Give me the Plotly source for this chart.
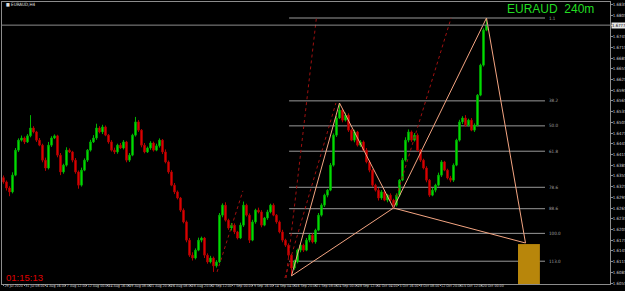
import plotly.graph_objects as go

# ---------------- data ----------------
closes = [
    1.6338, 1.6321, 1.6310, 1.6357, 1.6427, 1.6455, 1.6461, 1.6450, 1.6467, 1.6489,
    1.6478, 1.6455, 1.6441, 1.6399, 1.6377, 1.6441, 1.6461, 1.6467, 1.6413, 1.6366,
    1.6385, 1.6427, 1.6422, 1.6399, 1.6366, 1.6329, 1.6371, 1.6399, 1.6427, 1.6450,
    1.6461, 1.6489, 1.6478, 1.6492, 1.6469, 1.6450, 1.6427, 1.6422, 1.6441, 1.6433,
    1.6450, 1.6399, 1.6413, 1.6469, 1.6506, 1.6483, 1.6441, 1.6422, 1.6433, 1.6447,
    1.6427, 1.6439, 1.6455, 1.6422, 1.6394, 1.6366, 1.6329, 1.6310, 1.6293, 1.6259,
    1.6226, 1.6175, 1.6133, 1.6125, 1.6147, 1.6175, 1.6181, 1.6133, 1.6114, 1.6125,
    1.6103, 1.6114, 1.6245, 1.6273, 1.6231, 1.6209, 1.6217, 1.6198, 1.6181, 1.6217,
    1.6273, 1.6245, 1.6175, 1.6226, 1.6259, 1.6254, 1.6217, 1.6237, 1.6254, 1.6273,
    1.6245, 1.6226, 1.6198, 1.6175, 1.6161, 1.6133, 1.6097, 1.6114, 1.6147, 1.6161,
    1.6147, 1.6175, 1.6189, 1.6170, 1.6203, 1.6245, 1.6273, 1.6301, 1.6315, 1.6385,
    1.6469, 1.6517, 1.6539, 1.6511, 1.6525, 1.6483, 1.6455, 1.6478, 1.6441, 1.6450,
    1.6427, 1.6394, 1.6371, 1.6329, 1.6315, 1.6293, 1.6310, 1.6287, 1.6301, 1.6287,
    1.6273, 1.6301, 1.6343, 1.6399, 1.6455, 1.6478, 1.6455, 1.6469, 1.6427, 1.6399,
    1.6377, 1.6343, 1.6301, 1.6315, 1.6329, 1.6357, 1.6394, 1.6371, 1.6349, 1.6343,
    1.6385, 1.6455, 1.6506, 1.6517, 1.6497, 1.6511, 1.6483, 1.6497, 1.6581, 1.6665,
    1.6763, 1.6777,
]
first_open = 1.6350
wick_up_pips = [
    6, 4, 5, 8, 6, 5, 7, 4, 5, 36,
    5, 3, 6, 4, 7, 9, 5, 4, 3, 6,
    4, 8, 5, 3, 6, 4, 7, 5, 3, 6,
    8, 12, 5, 6, 4, 3, 5, 7, 4, 6,
    5, 3, 6, 4, 14, 5, 3, 6, 4, 5,
    4, 6, 5, 3, 7, 4, 5, 6, 4, 3,
    5, 4, 6, 8, 5, 7, 4, 3, 5, 6,
    4, 5, 6, 5, 8, 4, 6, 5, 3, 7,
    10, 4, 5, 6, 4, 7, 5, 3, 6, 4,
    5, 3, 4, 6, 4, 5, 3, 6, 4, 5,
    4, 6, 3, 5, 4, 6, 5, 4, 3, 6,
    5, 6, 20, 4, 7, 5, 4, 6, 3, 5,
    4, 6, 5, 3, 4, 6, 5, 4, 3, 5,
    4, 5, 3, 6, 8, 7, 4, 6, 5, 3,
    4, 5, 3, 6, 4, 7, 5, 3, 4, 6,
    5, 4, 6, 5, 8, 4, 6, 5, 3, 4,
    5, 20,
]
wick_dn_pips = [
    5, 7, 12, 4, 3, 5, 4, 6, 3, 4,
    4, 5, 3, 6, 8, 4, 5, 3, 6, 9,
    5, 4, 3, 6, 5, 10, 4, 3, 5, 4,
    3, 5, 4, 6, 3, 5, 4, 6, 5, 3,
    4, 6, 5, 3, 4, 5, 6, 4, 3, 5,
    4, 3, 5, 6, 4, 5, 3, 6, 4, 5,
    4, 6, 5, 7, 4, 3, 6, 8, 5, 4,
    17, 5, 3, 6, 4, 5, 7, 6, 4, 3,
    5, 4, 8, 3, 5, 4, 6, 3, 5, 4,
    3, 5, 4, 6, 5, 6, 22, 5, 4, 6,
    5, 3, 6, 4, 5, 3, 4, 5, 6, 3,
    4, 5, 3, 6, 4, 5, 3, 6, 4, 5,
    3, 4, 6, 5, 4, 7, 5, 3, 6, 4,
    8, 4, 5, 3, 4, 6, 5, 4, 3, 5,
    4, 6, 5, 3, 6, 4, 5, 3, 4, 6,
    5, 3, 4, 6, 5, 4, 3, 5, 4, 3,
    4, 3,
]

date_labels = [
    "29 Jul 2020", "31 Jul 08:00", "4 Aug 16:00", "7 Aug 12:00", "12 Aug 00:00",
    "14 Aug 16:00", "19 Aug 08:00", "21 Aug 20:00", "26 Aug 08:00", "28 Aug 20:00",
    "2 Sep 12:00", "7 Sep 00:00", "9 Sep 16:00", "14 Sep 04:00", "16 Sep 20:00",
    "21 Sep 08:00", "24 Sep 00:00", "28 Sep 12:00", "1 Oct 04:00", "5 Oct 16:00",
    "8 Oct 08:00", "12 Oct 20:00", "15 Oct 12:00", "20 Oct 00:00",
]

price_ticks = [round(1.6055 + 0.003 * k, 4) for k in range(27)]

# harmonic pattern X, A, B, C, D  (bar index, price)
pattern_idx = [96, 112, 130, 161, 174]
pattern_price = [1.6075, 1.6559, 1.6265, 1.6797, 1.6167]

# fibonacci levels
fib_levels = [1.6797, 1.6565, 1.6495, 1.6424, 1.6323, 1.6263, 1.6194, 1.6116]
fib_labels = ["1.1", "38.2", "50.0", "61.8", "78.6", "88.6", "100.0", "113.0"]
fib_span = [95.2, 180.5]

# dotted projection lines
proj_idx = [[71.2, 79.8], [94.2, 104.3], [93.8, 110.8], [129.8, 149.2]]
proj_price = [[1.6086, 1.6313], [1.6069, 1.6797], [1.6069, 1.6559], [1.6265, 1.6797]]

# target zone
zone_idx = [171.5, 178.8]
zone_top = 1.6164

# ---------------- build ----------------
n = len(closes)
xs = list(range(n))
opens = [first_open] + closes[:-1]
highs = [max(o, c) + w * 0.0001 for o, c, w in zip(opens, closes, wick_up_pips)]
lows = [min(o, c) - w * 0.0001 for o, c, w in zip(opens, closes, wick_dn_pips)]

y_range = [1.60522, 1.68418]
x_range = [-0.5, 202.17]

NARROW = "Liberation Sans Narrow, Arial Narrow, DejaVu Sans Condensed, Arial"

fig = go.Figure()

fig.add_trace(go.Candlestick(
    x=xs, open=opens, high=highs, low=lows, close=closes,
    increasing=dict(line=dict(color="#00B400", width=1), fillcolor="#00FF00"),
    decreasing=dict(line=dict(color="#B40000", width=1), fillcolor="#FF0000"),
    whiskerwidth=0, hoverinfo="skip", showlegend=False,
))

# pattern legs
legs = [(0, 1), (1, 2), (0, 2), (2, 3), (3, 4), (2, 4)]
lx, ly = [], []
for a, b in legs:
    lx += [pattern_idx[a], pattern_idx[b], None]
    ly += [pattern_price[a], pattern_price[b], None]
fig.add_trace(go.Scatter(x=lx, y=ly, mode="lines",
                         line=dict(color="#F4A582", width=1),
                         hoverinfo="skip", showlegend=False))

# projection dotted lines
px, py = [], []
for xi, yi in zip(proj_idx, proj_price):
    px += xi + [None]
    py += yi + [None]
fig.add_trace(go.Scatter(x=px, y=py, mode="lines",
                         line=dict(color="#A01010", width=1, dash="dot"),
                         hoverinfo="skip", showlegend=False))

shapes = []
# bid line
shapes.append(dict(type="line", xref="paper", x0=0, x1=1, yref="y",
                   y0=closes[-1], y1=closes[-1],
                   line=dict(color="#8C8C8C", width=1)))
# fib lines
for lv in fib_levels:
    shapes.append(dict(type="line", xref="x", x0=fib_span[0], x1=fib_span[1],
                       yref="y", y0=lv, y1=lv,
                       line=dict(color="#9A9A9A", width=1), layer="below"))
# target zone
shapes.append(dict(type="rect", xref="x", x0=zone_idx[0], x1=zone_idx[1],
                   yref="y", y0=y_range[0], y1=zone_top,
                   fillcolor="#B8860B", line=dict(width=0), layer="above"))

annotations = []
for lv, lab in zip(fib_levels, fib_labels):
    annotations.append(dict(x=fib_span[1] + 0.8, y=lv, xref="x", yref="y",
                            text=lab, showarrow=False, xanchor="left",
                            yanchor="middle",
                            font=dict(size=4.5, color="#A0A0A0", family=NARROW)))
annotations.append(dict(x=0.977, y=0.975, xref="paper", yref="paper",
                        text="EURAUD  240m", showarrow=False, xanchor="right",
                        yanchor="middle",
                        font=dict(size=12, color="#22DD22", family="Arial")))
annotations.append(dict(x=0.003, y=0.024, xref="paper", yref="paper",
                        text="01:15:13", showarrow=False, xanchor="left",
                        yanchor="middle",
                        font=dict(size=9.5, color="#E00000", family="Arial")))
annotations.append(dict(x=0.003, y=0.992, xref="paper", yref="paper",
                        text="■ EURAUD,H4", showarrow=False, xanchor="left",
                        yanchor="middle",
                        font=dict(size=4.5, color="#E0E0E0", family=NARROW)))
annotations.append(dict(x=1.0, y=closes[-1], xref="paper", yref="y",
                        text=f"{closes[-1]:.4f}", showarrow=False, xanchor="left",
                        yanchor="middle", bgcolor="#E6E6E6", borderpad=0,
                        xshift=1,
                        font=dict(size=4.3, color="#000000", family=NARROW)))

# the tick label under the current-price box is hidden, as in the terminal
price_tick_text = ["" if abs(v - closes[-1]) < 0.0010 else f"{v:.4f}" for v in price_ticks]

tick_pos = [k * 6.93 for k in range(len(date_labels))]

fig.update_layout(
    width=625, height=291,
    margin=dict(l=2, r=15, t=2, b=7, autoexpand=False),
    paper_bgcolor="#000000", plot_bgcolor="#000000",
    shapes=shapes, annotations=annotations,
    showlegend=False,
    xaxis=dict(range=x_range, rangeslider=dict(visible=False),
               showgrid=False, zeroline=False,
               showline=True, mirror=True, linecolor="#8C8C8C", linewidth=1,
               tickmode="array", tickvals=tick_pos, ticktext=date_labels,
               ticks="outside", ticklen=1, tickcolor="#8C8C8C",
               tickangle=0,
               ticklabelposition="outside right", ticklabelstandoff=-2,
               tickfont=dict(size=3.6, color="#D0D0D0", family=NARROW)),
    yaxis=dict(range=y_range, side="right",
               showgrid=False, zeroline=False,
               showline=True, mirror=True, linecolor="#8C8C8C", linewidth=1,
               tickmode="array", tickvals=price_ticks,
               ticktext=price_tick_text,
               ticks="outside", ticklen=2, tickcolor="#8C8C8C",
               ticklabelstandoff=-1,
               tickfont=dict(size=4.3, color="#D0D0D0", family=NARROW)),
)

fig.write_html("out.html")
